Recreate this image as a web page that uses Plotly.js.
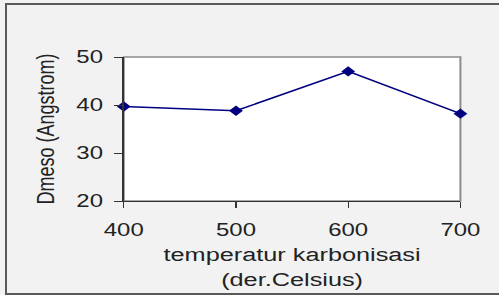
<!DOCTYPE html>
<html>
<head>
<meta charset="utf-8">
<script src="https://cdn.plot.ly/plotly-3.0.1.min.js"></script>
<style>
  html, body { margin:0; padding:0; background:#f2f2f2; overflow:hidden; width:499px; height:295px; }
  #wrap { position:absolute; left:0; top:0; width:375px; height:295px; transform:scaleX(1.3307); transform-origin:0 0; }
  #plot { width:375px; height:295px; }
  #frame { position:absolute; left:5px; top:3px; width:600px; height:288px; border:2px solid #5a5a5a; pointer-events:none; }
</style>
</head>
<body>
<div id="wrap"><div id="plot"></div></div>
<div id="frame"></div>
<script>
const temperatures = [400, 500, 600, 700];
const dmeso = [39.7, 38.8, 47.0, 38.2];
const xTicks = [400, 500, 600, 700];
const yTicks = [20, 30, 40, 50];
const xTitle = 'temperatur karbonisasi<br>(der.Celsius)';
const yTitle = 'Dmeso (Angstrom)';

const trace = {
  x: temperatures,
  y: dmeso,
  type: 'scatter',
  mode: 'lines+markers',
  line: { color: '#000080', width: 1.5 },
  marker: { symbol: 'diamond', size: 8, color: '#000080' },
  cliponaxis: false,
  hoverinfo: 'x+y'
};

const layout = {
  width: 375,
  height: 295,
  margin: { l: 93, r: 29, t: 57, b: 94 },
  paper_bgcolor: '#f2f2f2',
  plot_bgcolor: '#ffffff',
  font: { family: 'Liberation Sans, Arial, sans-serif', size: 18, color: '#222222' },
  showlegend: false,
  xaxis: {
    range: [400, 700],
    tickvals: xTicks,
    ticktext: xTicks.map(String),
    ticks: 'outside', ticklen: 6, tickcolor: '#333333', tickwidth: 1,
    showline: true, linecolor: '#333333', linewidth: 1,
    showgrid: false, zeroline: false,
    ticklabelstandoff: 6,
    tickfont: { size: 18, color: '#222222' },
    title: { text: xTitle, font: { size: 19, color: '#222222' }, standoff: 9 }
  },
  yaxis: {
    range: [20, 50],
    tickvals: yTicks,
    ticktext: yTicks.map(String),
    ticks: 'outside', ticklen: 6, tickcolor: '#333333', tickwidth: 1,
    showline: true, linecolor: '#333333', linewidth: 1,
    showgrid: false, zeroline: false,
    ticklabelstandoff: 5,
    tickfont: { size: 18, color: '#222222' },
    title: { text: yTitle, font: { size: 18, color: '#222222' }, standoff: 11 }
  },
  shapes: [{
    type: 'rect', xref: 'paper', yref: 'paper', x0: 0, x1: 1, y0: 0, y1: 1,
    line: { color: '#8c8c8c', width: 1.5 }, layer: 'below'
  }]
};

Plotly.newPlot('plot', [trace], layout, { displayModeBar: false, staticPlot: true });
</script>
</body>
</html>
